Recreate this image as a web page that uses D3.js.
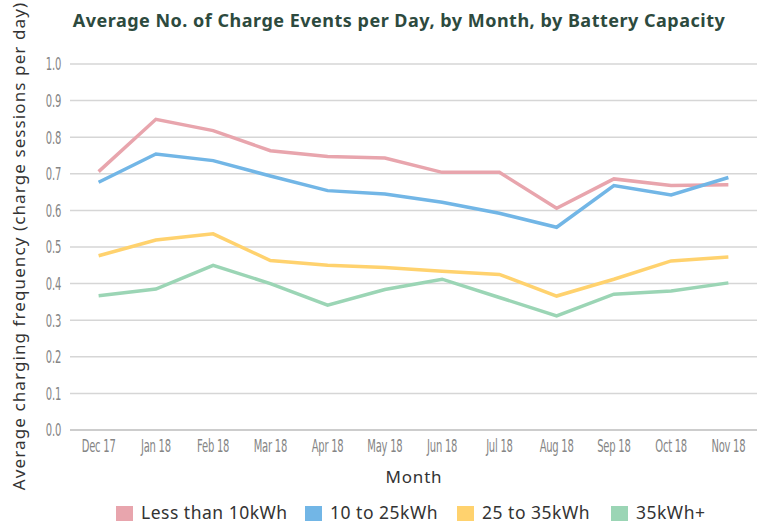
<!DOCTYPE html>
<html>
<head>
<meta charset="utf-8">
<script src="https://cdn.jsdelivr.net/npm/d3@7"></script>
<style>
    body { margin: 0; background: #fff; }
    svg { display: block; }
</style>
</head>
<body>
<script>
const months = ["Dec 17", "Jan 18", "Feb 18", "Mar 18", "Apr 18", "May 18", "Jun 18", "Jul 18", "Aug 18", "Sep 18", "Oct 18", "Nov 18"];
const seriesNames = ["Less than 10kWh", "10 to 25kWh", "25 to 35kWh", "35kWh+"];
const lessThan10 = [0.706, 0.849, 0.818, 0.763, 0.747, 0.743, 0.704, 0.704, 0.606, 0.686, 0.668, 0.670];
const from10to25 = [0.677, 0.754, 0.736, 0.694, 0.654, 0.645, 0.622, 0.592, 0.554, 0.668, 0.642, 0.690];
const from25to35 = [0.476, 0.519, 0.536, 0.463, 0.450, 0.444, 0.434, 0.425, 0.366, 0.412, 0.462, 0.473];
const over35 = [0.367, 0.385, 0.450, 0.400, 0.341, 0.384, 0.412, 0.362, 0.312, 0.371, 0.380, 0.402];
const yTicks = [0, 0.1, 0.2, 0.3, 0.4, 0.5, 0.6, 0.7, 0.8, 0.9, 1.0];
const colors = ["#e8a5ad", "#72b6e6", "#ffd26e", "#9bd5b5"];

const allSeries = [lessThan10, from10to25, from25to35, over35];

const width = 766, height = 524;
const margin = {top: 64, right: 9, bottom: 94, left: 70};

const svg = d3.select("body").append("svg")
    .attr("width", width)
    .attr("height", height);

const x = d3.scaleBand().domain(months).range([margin.left, width - margin.right]);
const y = d3.scaleLinear().domain([0, 1]).range([height - margin.bottom, margin.top]);

// gridlines
svg.append("g")
    .selectAll("line")
    .data(yTicks)
    .enter()
    .append("line")
    .attr("x1", margin.left)
    .attr("x2", width - margin.right)
    .attr("y1", d => y(d))
    .attr("y2", d => y(d))
    .attr("stroke", d => d === 0 ? "#bdbdbd" : "#d6d6d6")
    .attr("stroke-width", 1.5);

// y axis labels
const yAxis = d3.axisLeft(y).tickValues(yTicks).tickFormat(d3.format(".1f")).tickSize(0).tickPadding(15);
const yg = svg.append("g")
    .attr("transform", "translate(" + margin.left + ",0)")
    .call(yAxis);
yg.select(".domain").remove();

// x axis labels
const xAxis = d3.axisBottom(x).tickSize(0).tickPadding(9);
const xg = svg.append("g")
    .attr("transform", "translate(0," + (height - margin.bottom) + ")")
    .call(xAxis);
xg.select(".domain").remove();

// condensed look for tick labels
svg.selectAll(".tick text")
    .attr("fill", "#858585")
    .attr("transform", "scale(0.6,1)")
    .style("font-family", "'Liberation Sans Narrow', 'DejaVu Sans Condensed', sans-serif")
    .style("font-size", "18.5px")
    .style("letter-spacing", "-0.4px");

// lines
const line = d3.line()
    .x((d, i) => x(months[i]) + x.bandwidth() / 2)
    .y(d => y(d));

svg.append("g")
    .selectAll("path")
    .data(allSeries)
    .enter()
    .append("path")
    .attr("d", line)
    .attr("fill", "none")
    .attr("stroke", (d, i) => colors[i])
    .attr("stroke-width", 3.5)
    .attr("stroke-linejoin", "miter");

// title
svg.append("text")
    .attr("x", 399)
    .attr("y", 27)
    .attr("text-anchor", "middle")
    .attr("fill", "#2d4a3e")
    .style("font-family", "'Noto Sans', sans-serif")
    .style("font-weight", "bold")
    .style("font-size", "18px")
    .style("letter-spacing", "0.5px")
    .text("Average No. of Charge Events per Day, by Month, by Battery Capacity");

// axis titles
svg.append("text")
    .attr("x", 414)
    .attr("y", 483)
    .attr("text-anchor", "middle")
    .attr("fill", "#333")
    .style("font-family", "'Noto Sans', sans-serif")
    .style("font-size", "17px")
    .style("letter-spacing", "0.8px")
    .text("Month");

svg.append("text")
    .attr("transform", "translate(25,246) rotate(-90)")
    .attr("text-anchor", "middle")
    .attr("fill", "#333")
    .style("font-family", "'Noto Sans', sans-serif")
    .style("font-size", "17px")
    .style("letter-spacing", "1.1px")
    .text("Average charging frequency (charge sessions per day)");

// legend
const legendX = [116, 305, 457, 611];
const legend = svg.append("g")
    .selectAll("g")
    .data(seriesNames)
    .enter()
    .append("g")
    .attr("transform", (d, i) => "translate(" + legendX[i] + ",506)");

legend.append("rect")
    .attr("width", 17)
    .attr("height", 15)
    .attr("fill", (d, i) => colors[i]);

legend.append("text")
    .attr("x", 25)
    .attr("y", 13)
    .attr("fill", "#333")
    .style("font-family", "'Noto Sans', sans-serif")
    .style("font-size", "17.5px")
    .style("letter-spacing", "0.5px")
    .text(d => d);
</script>
</body>
</html>
